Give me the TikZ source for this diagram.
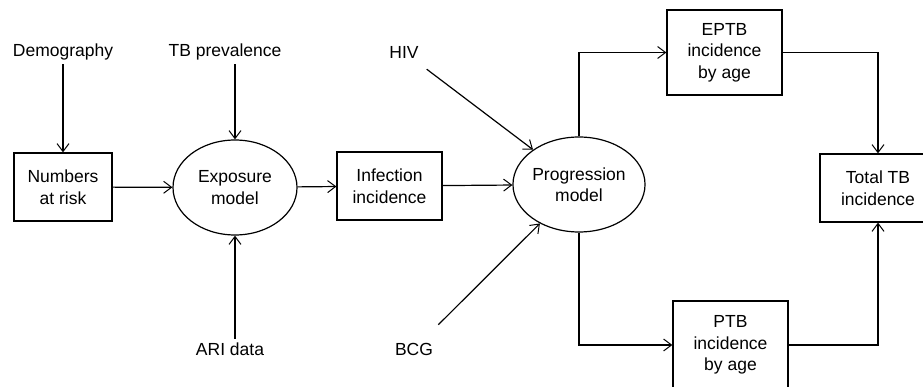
\documentclass[tikz,border=0pt]{standalone}
\usepackage{fontspec}
\setmainfont{Liberation Sans}
\usetikzlibrary{shapes.geometric,arrows.meta}

\tikzset{
  lbl/.style={font=\fontsize{17.5}{21.5}\selectfont, align=center},
  box/.style={lbl, draw, inner sep=0pt},
  model/.style={lbl, draw, ellipse, inner sep=0pt, minimum width=124pt, minimum height=95pt}
}

\begin{document}
\begin{tikzpicture}[x=1pt, y=-1pt, line width=1.2pt, >={Straight Barb[length=8pt,width=12pt,line width=1pt]}]
    \useasboundingbox (0, 0) rectangle (923, 387);
    \clip (0, 0) rectangle (923, 387);
    \node[lbl] (demo) at (63, 52) {Demography};
    \node[lbl] (tbprev) at (225, 52) {TB prevalence};
    \node[lbl] (hiv) at (404, 52) {HIV};
    \node[lbl] (ari) at (230, 349) {ARI data};
    \node[lbl] (bcg) at (414, 349) {BCG};
    \node[box, minimum width=98pt, minimum height=68pt] (risk) at (63, 187) {Numbers\\at risk};
    \node[model] (expo) at (235, 187.5) {Exposure\\model};
    \node[box, minimum width=105pt, minimum height=68pt] (infect) at (389.5, 186) {Infection\\incidence};
    \node[model] (prog) at (579, 184.5) {Progression\\model};
    \node[box, minimum width=115pt, minimum height=85pt] (eptb) at (724.5, 52.5) {EPTB\\incidence\\by age};
    \node[box, minimum width=115pt, minimum height=88pt] (ptb) at (730.5, 345) {PTB\\incidence\\by age};
    \node[box, minimum width=116pt, minimum height=68pt] (total) at (878, 188) {Total TB\\incidence};
    \draw[->] (demo) -- (risk);
    \draw[->] (risk) -- (expo);
    \draw[->] (tbprev.south -| expo.north) -- (expo.north);
    \draw[->] (ari.north -| expo.south) -- (expo.south);
    \draw[->] (expo) -- (infect);
    \draw[->] (infect) -- (prog);
    \draw[->, shorten <=12pt] (hiv) -- (prog);
    \draw[->, shorten <=20pt] (bcg) -- (prog);
    \draw[->] (prog.north) |- (eptb);
    \draw[->] (prog.south) |- (ptb);
    \draw[->] (eptb) -| (total);
    \draw[->] (ptb) -| (total);
  \end{tikzpicture}
\end{document}
